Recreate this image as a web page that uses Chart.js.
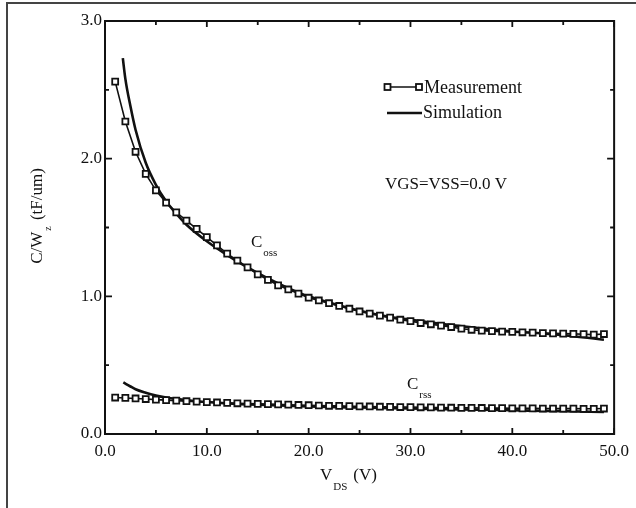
<!DOCTYPE html>
<html>
<head>
<meta charset="utf-8">
<script src="https://cdn.jsdelivr.net/npm/chart.js@4.4.0/dist/chart.umd.min.js"></script>
<style>
  html, body { margin: 0; padding: 0; background: #fff; }
  #wrap { width: 636px; height: 508px; position: relative; }
</style>
</head>
<body>
<div id="wrap"><canvas id="c" width="636" height="508"></canvas></div>
<script>
// measured points, 1 V steps
var measVds = [1,2,3,4,5,6,7,8,9,10,11,12,13,14,15,16,17,18,19,20,21,22,23,24,25,
               26,27,28,29,30,31,32,33,34,35,36,37,38,39,40,41,42,43,44,45,46,47,48,49];
var cossMeas = [2.56,2.27,2.05,1.89,1.77,1.68,1.61,1.55,1.49,1.43,1.37,1.31,1.26,1.21,1.16,
                1.12,1.08,1.05,1.02,0.99,0.97,0.95,0.93,0.91,0.89,0.875,0.86,0.845,0.83,0.82,
                0.806,0.797,0.787,0.777,0.765,0.757,0.751,0.747,0.744,0.742,0.739,0.736,0.733,
                0.731,0.729,0.727,0.725,0.722,0.726];
var crssMeas = [0.265,0.262,0.258,0.254,0.25,0.246,0.242,0.238,0.235,0.232,0.229,0.226,0.223,
                0.221,0.219,0.217,0.215,0.213,0.211,0.209,0.207,0.205,0.204,0.202,0.201,0.2,
                0.198,0.197,0.196,0.195,0.194,0.193,0.192,0.191,0.19,0.19,0.189,0.188,0.188,
                0.187,0.186,0.186,0.185,0.185,0.184,0.184,0.183,0.183,0.185];

// simulation curves
var cossSimVds = [1.75,2,2.5,3,4,5,6,7,8,10,12,14,16,18,20,22,25,28,30,33,36,40,43,46,49];
var cossSim = [2.73,2.58,2.38,2.21,1.97,1.81,1.69,1.6,1.52,1.4,1.3,1.21,1.13,1.06,1.0,
               0.955,0.895,0.85,0.83,0.8,0.775,0.745,0.73,0.71,0.685];
var crssSimVds = [1.8,2.5,3,4,5,6,7,8,10,12,15,20,25,30,35,40,45,49];
var crssSim = [0.375,0.345,0.325,0.3,0.28,0.265,0.255,0.245,0.232,0.222,0.212,0.2,
               0.192,0.185,0.178,0.172,0.166,0.16];

var serif = '"Liberation Serif", "Times New Roman", serif';
var ink = '#111';

function pts(xs, ys) {
  return xs.map(function (v, i) { return { x: v, y: ys[i] }; });
}

function measSet(data) {
  return {
    data: pts(measVds, data),
    borderColor: ink,
    borderWidth: 1.6,
    pointStyle: 'rect',
    pointRadius: 4.2,
    pointBorderWidth: 1.8,
    pointBackgroundColor: '#fff',
    pointBorderColor: ink,
    tension: 0
  };
}
function simSet(xs, data) {
  return {
    data: pts(xs, data),
    borderColor: ink,
    borderWidth: 2.6,
    pointRadius: 0,
    cubicInterpolationMode: 'monotone'
  };
}

// draws text with a subscript
function sub(ctx, main, s, x, y, size, ssize, dy) {
  ctx.font = size + 'px ' + serif;
  ctx.fillText(main, x, y);
  var w = ctx.measureText(main).width;
  ctx.font = ssize + 'px ' + serif;
  ctx.fillText(s, x + w + 1, y + dy);
  return w + 1 + ctx.measureText(s).width;
}

var decor = {
  id: 'decor',
  afterDraw: function (chart) {
    var ctx = chart.ctx, a = chart.chartArea;
    var xs = chart.scales.x, ys = chart.scales.y;
    ctx.save();

    // outer picture frame (top + left)
    ctx.strokeStyle = '#444';
    ctx.lineWidth = 2;
    ctx.beginPath();
    ctx.moveTo(7, 508); ctx.lineTo(7, 3); ctx.lineTo(636, 3);
    ctx.stroke();

    // plot box
    ctx.strokeStyle = ink;
    ctx.lineWidth = 2;
    ctx.strokeRect(a.left, a.top, a.right - a.left, a.bottom - a.top);

    // inward ticks
    ctx.lineWidth = 1.8;
    ctx.beginPath();
    for (var v = 0; v <= 50; v += 5) {
      var px = xs.getPixelForValue(v);
      var len = (v % 10 === 0) ? 6 : 4;
      ctx.moveTo(px, a.bottom); ctx.lineTo(px, a.bottom - len);
      ctx.moveTo(px, a.top); ctx.lineTo(px, a.top + len);
    }
    for (var k = 0; k <= 6; k++) {
      var yv = k * 0.5;
      var py = ys.getPixelForValue(yv);
      var l2 = (k % 2 === 0) ? 7 : 4;
      ctx.moveTo(a.left, py); ctx.lineTo(a.left + l2, py);
      ctx.moveTo(a.right, py); ctx.lineTo(a.right - l2, py);
    }
    ctx.stroke();

    ctx.fillStyle = ink;
    ctx.textBaseline = 'middle';
    ctx.textAlign = 'left';

    // legend
    ctx.lineWidth = 1.6;
    ctx.beginPath(); ctx.moveTo(387, 87); ctx.lineTo(420, 87); ctx.stroke();
    ctx.fillStyle = '#fff';
    ctx.lineWidth = 1.8;
    [387.5, 419].forEach(function (lx) {
      ctx.fillRect(lx - 3, 84, 6, 6);
      ctx.strokeRect(lx - 3, 84, 6, 6);
    });
    ctx.fillStyle = ink;
    ctx.lineWidth = 2.6;
    ctx.beginPath(); ctx.moveTo(387, 113); ctx.lineTo(422, 113); ctx.stroke();
    ctx.font = '18px ' + serif;
    ctx.fillText('Measurement', 424, 88);
    ctx.fillText('Simulation', 423, 113);
    ctx.font = '17px ' + serif;
    ctx.fillText('VGS=VSS=0.0 V', 385, 185);

    // curve labels
    sub(ctx, 'C', 'oss', 251, 243, 17, 11, 10);
    sub(ctx, 'C', 'rss', 407, 385, 17, 11, 10);

    // x title
    var w1 = sub(ctx, 'V', 'DS', 320, 476, 17, 11, 11);
    ctx.font = '17px ' + serif;
    ctx.fillText('(V)', 320 + w1 + 6, 476);

    // y title
    ctx.translate(38, 217);
    ctx.rotate(-Math.PI / 2);
    ctx.font = '17px ' + serif;
    var tw = ctx.measureText('C/W').width;
    ctx.font = '10px ' + serif;
    tw += 1 + ctx.measureText('z').width;
    ctx.font = '17px ' + serif;
    tw += ctx.measureText(' (tF/um)').width;
    var sx = -tw / 2;
    var ww = sub(ctx, 'C/W', 'z', sx, 0, 17, 10, 10);
    ctx.font = '17px ' + serif;
    ctx.fillText(' (tF/um)', sx + ww + 2, 0);

    ctx.restore();
  }
};

new Chart(document.getElementById('c'), {
  type: 'line',
  data: {
    datasets: [
      measSet(cossMeas),
      simSet(cossSimVds, cossSim),
      measSet(crssMeas),
      simSet(crssSimVds, crssSim)
    ]
  },
  options: {
    responsive: false,
    animation: false,
    layout: { padding: { top: 21, right: 20, left: 0, bottom: 0 } },
    plugins: { legend: { display: false }, tooltip: { enabled: false } },
    scales: {
      x: {
        type: 'linear', min: 0, max: 50,
        grid: { display: false, drawTicks: false },
        border: { display: false },
        ticks: {
          stepSize: 10, padding: 7, color: ink, maxRotation: 0,
          font: { family: serif, size: 17 },
          callback: function (v) { return v.toFixed(1); }
        },
        afterFit: function (s) { s.height = 74; }
      },
      y: {
        min: 0, max: 3,
        grid: { display: false, drawTicks: false },
        border: { display: false },
        ticks: {
          stepSize: 1, padding: 3, color: ink,
          font: { family: serif, size: 17 },
          callback: function (v) { return v.toFixed(1); }
        },
        afterFit: function (s) { s.width = 105; }
      }
    }
  },
  plugins: [decor]
});
</script>
</body>
</html>
